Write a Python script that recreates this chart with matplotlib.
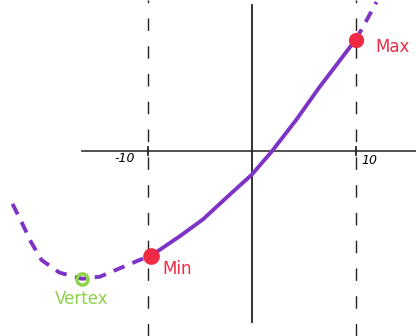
import matplotlib.pyplot as plt
import numpy as np

# curve points (chart units, 10 units ~ 104 px)
left_x = [-23.0, -22.1, -21.2, -20.2, -18.5, -16.3, -14.6, -12.7, -10.8, -9.7]
left_y = [-5.1, -6.9, -8.8, -10.5, -11.7, -12.3, -12.1, -11.3, -10.5, -10.1]

mid_x = [-9.7, -6.9, -4.7, -2.1, 0.0, 1.9, 4.3, 6.5, 7.8, 10.0]
mid_y = [-10.1, -8.2, -6.6, -4.2, -2.3, -0.1, 3.0, 6.1, 7.8, 10.7]

right_x = [10.0, 10.7, 11.4, 12.0]
right_y = [10.7, 11.9, 13.2, 14.3]

vertex = (-16.3, -12.3)
min_pt = (-9.7, -10.1)
max_pt = (10.0, 10.7)

bounds = [-10, 10]
tick_labels = ['-10', '10']

PURPLE = '#7d34c6'
RED = '#ee2a44'
GREEN = '#8fd24a'

fig = plt.figure(figsize=(4.16, 3.36), dpi=100)
ax = fig.add_axes([0, 0, 1, 1])
ax.set_xlim(-24.2, 15.8)
ax.set_ylim(-17.8, 14.5)
ax.axis('off')

# axes
ax.plot([-16.3, 15.8], [0, 0], color='#444444', lw=1.3)
ax.plot([0, 0], [-16.5, 14.0], color='#222222', lw=1.3)

# dashed bounds
for b in bounds:
    ax.plot([b, b], [-17.8, 14.5], color='#222222', lw=1.0, dashes=(9, 11))
    ax.plot([b, b], [-0.4, 0.4], color='#222222', lw=1.3)

ax.text(-12.2, -0.7, tick_labels[0], fontsize=9, ha='center', va='center', style='italic')
ax.text(11.3, -0.9, tick_labels[1], fontsize=9, ha='center', va='center', style='italic')

# parabola
ax.plot(left_x, left_y, color=PURPLE, lw=2.8, dashes=(3, 2.2))
ax.plot(right_x, right_y, color=PURPLE, lw=2.8, dashes=(3, 2.2))
ax.plot(mid_x, mid_y, color=PURPLE, lw=2.8)

# points
ax.plot(*vertex, 'o', ms=8, mfc='none', mec=GREEN, mew=2.5)
ax.plot(*min_pt, 'o', ms=11, color=RED)
ax.plot(*max_pt, 'o', ms=10, color=RED)

ax.text(13.5, 10.0, 'Max', color=RED, fontsize=12, ha='center', va='center')
ax.text(-7.2, -11.4, 'Min', color=RED, fontsize=12, ha='center', va='center')
ax.text(-16.3, -14.2, 'Vertex', color=GREEN, fontsize=12, ha='center', va='center')

fig.savefig('out.png', dpi=100)
